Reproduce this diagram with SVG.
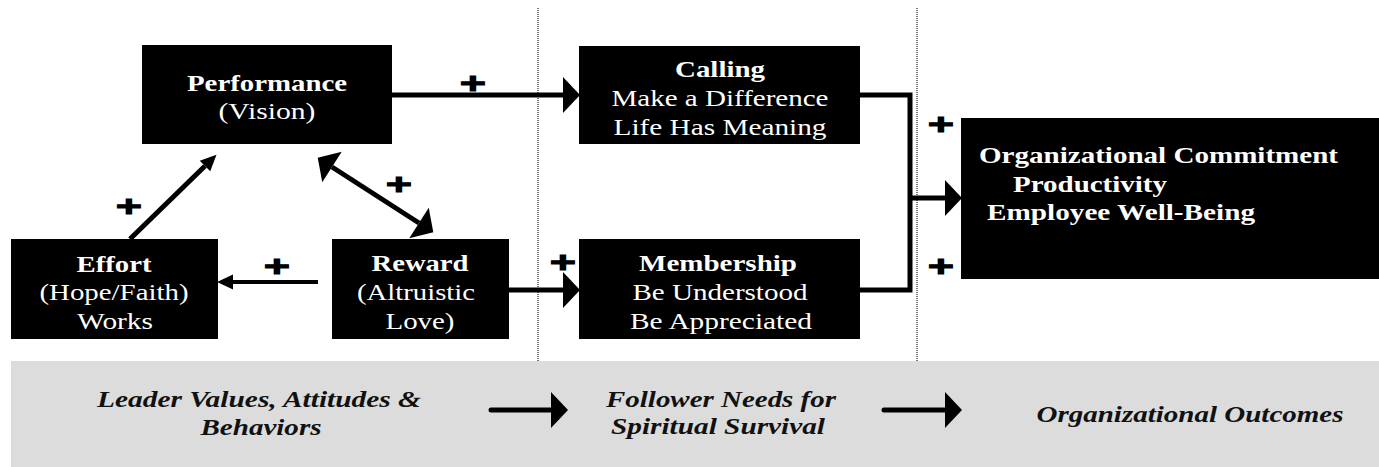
<svg xmlns="http://www.w3.org/2000/svg" width="1379" height="467" viewBox="0 0 1379 467">
<style>
.box{fill:#000}
.t{font-family:"Liberation Serif","Times New Roman",serif;font-size:24px;fill:#fff;text-anchor:middle}
.b{font-weight:bold}
.tl{text-anchor:start}
.bt{font-family:"Liberation Serif","Times New Roman",serif;font-size:24px;font-weight:bold;font-style:italic;fill:#111;text-anchor:middle}
.plus{font-family:"Liberation Sans",Arial,sans-serif;font-size:30px;font-weight:bold;fill:#000;stroke:#000;stroke-width:1;text-anchor:middle}
.ln{fill:none;stroke:#000;stroke-width:5}
.ln4{fill:none;stroke:#000;stroke-width:4}
.div{stroke:#555;stroke-width:1.6;stroke-dasharray:1 1}
</style>
<defs>
<marker id="big" markerUnits="userSpaceOnUse" markerWidth="17" markerHeight="36" refX="0" refY="18" orient="auto-start-reverse" overflow="visible">
<path d="M0,0 L17,18 L0,36 Z" fill="#000"/>
</marker>
<marker id="small" markerUnits="userSpaceOnUse" markerWidth="16" markerHeight="15" refX="0" refY="7.5" orient="auto" overflow="visible">
<path d="M0,0 L16,7.5 L0,15 Z" fill="#000"/>
</marker>
</defs>

<g id="band">
<rect x="11" y="361" width="1368" height="106" fill="#dcdcdc"/>
</g>

<g id="dividers">
<line class="div" x1="538" y1="8" x2="538" y2="361"/>
<line class="div" x1="917" y1="8" x2="917" y2="361"/>
</g>

<g id="connectors">
<line class="ln" x1="392" y1="95" x2="563" y2="95" marker-end="url(#big)"/>
<line class="ln" x1="509" y1="290" x2="563" y2="290" marker-end="url(#big)"/>
<line class="ln4" x1="318" y1="282" x2="233" y2="282" marker-end="url(#small)"/>
<line class="ln" x1="130" y1="239" x2="205" y2="166" marker-end="url(#small)"/>
<line class="ln" x1="332" y1="167" x2="419" y2="223" marker-start="url(#big)" marker-end="url(#big)"/>
<polyline class="ln" points="860,95 910,95 910,290 860,290"/>
<line class="ln" x1="908" y1="198" x2="945" y2="198" marker-end="url(#big)"/>
<line class="ln" x1="491" y1="410" x2="551" y2="410" stroke-linecap="round" marker-end="url(#big)"/>
<line class="ln" x1="884" y1="410" x2="945" y2="410" stroke-linecap="round" marker-end="url(#big)"/>
</g>

<g id="performance">
<rect class="box" x="142" y="45" width="250" height="99"/>
<text class="t b" x="267" y="91" textLength="160" lengthAdjust="spacingAndGlyphs">Performance</text>
<text class="t" x="267" y="119" textLength="97" lengthAdjust="spacingAndGlyphs">(Vision)</text>
</g>

<g id="effort">
<rect class="box" x="11" y="239" width="207" height="100"/>
<text class="t b" x="114" y="272" textLength="75" lengthAdjust="spacingAndGlyphs">Effort</text>
<text class="t" x="114" y="300" textLength="149" lengthAdjust="spacingAndGlyphs">(Hope/Faith)</text>
<text class="t" x="115" y="329" textLength="76" lengthAdjust="spacingAndGlyphs">Works</text>
</g>

<g id="reward">
<rect class="box" x="332" y="239" width="177" height="100"/>
<text class="t b" x="420" y="271" textLength="97" lengthAdjust="spacingAndGlyphs">Reward</text>
<text class="t" x="416" y="300" textLength="118" lengthAdjust="spacingAndGlyphs">(Altruistic</text>
<text class="t" x="420" y="329" textLength="69" lengthAdjust="spacingAndGlyphs">Love)</text>
</g>

<g id="calling">
<rect class="box" x="579" y="46" width="281" height="98"/>
<text class="t b" x="720" y="77" textLength="90" lengthAdjust="spacingAndGlyphs">Calling</text>
<text class="t" x="720" y="106" textLength="217" lengthAdjust="spacingAndGlyphs">Make a Difference</text>
<text class="t" x="720" y="135" textLength="213" lengthAdjust="spacingAndGlyphs">Life Has Meaning</text>
</g>

<g id="membership">
<rect class="box" x="579" y="239" width="281" height="100"/>
<text class="t b" x="718" y="271" textLength="158" lengthAdjust="spacingAndGlyphs">Membership</text>
<text class="t" x="720" y="300" textLength="175" lengthAdjust="spacingAndGlyphs">Be Understood</text>
<text class="t" x="721" y="329" textLength="182" lengthAdjust="spacingAndGlyphs">Be Appreciated</text>
</g>

<g id="outcomes">
<rect class="box" x="961" y="118" width="418" height="161"/>
<text class="t b tl" x="979" y="163" textLength="359" lengthAdjust="spacingAndGlyphs">Organizational Commitment</text>
<text class="t b tl" x="1013" y="192" textLength="154" lengthAdjust="spacingAndGlyphs">Productivity</text>
<text class="t b tl" x="987" y="220" textLength="268" lengthAdjust="spacingAndGlyphs">Employee Well-Being</text>
</g>

<g id="plus-labels">
<text class="plus" transform="translate(473,82) scale(1.5,1)" x="0" y="10.5">+</text>
<text class="plus" transform="translate(129,205) scale(1.5,1)" x="0" y="10.5">+</text>
<text class="plus" transform="translate(399,183) scale(1.5,1)" x="0" y="10.5">+</text>
<text class="plus" transform="translate(277,265) scale(1.5,1)" x="0" y="10.5">+</text>
<text class="plus" transform="translate(563,261) scale(1.5,1)" x="0" y="10.5">+</text>
<text class="plus" transform="translate(941,123) scale(1.5,1)" x="0" y="10.5">+</text>
<text class="plus" transform="translate(941,265) scale(1.5,1)" x="0" y="10.5">+</text>
</g>

<g id="legend">
<text class="bt" x="259" y="407" textLength="324" lengthAdjust="spacingAndGlyphs">Leader Values, Attitudes &amp;</text>
<text class="bt" x="261" y="435" textLength="121" lengthAdjust="spacingAndGlyphs">Behaviors</text>
<text class="bt" x="721" y="407" textLength="230" lengthAdjust="spacingAndGlyphs">Follower Needs for</text>
<text class="bt" x="718" y="434" textLength="214" lengthAdjust="spacingAndGlyphs">Spiritual Survival</text>
<text class="bt" x="1190" y="422" textLength="307" lengthAdjust="spacingAndGlyphs">Organizational Outcomes</text>
</g>
</svg>
